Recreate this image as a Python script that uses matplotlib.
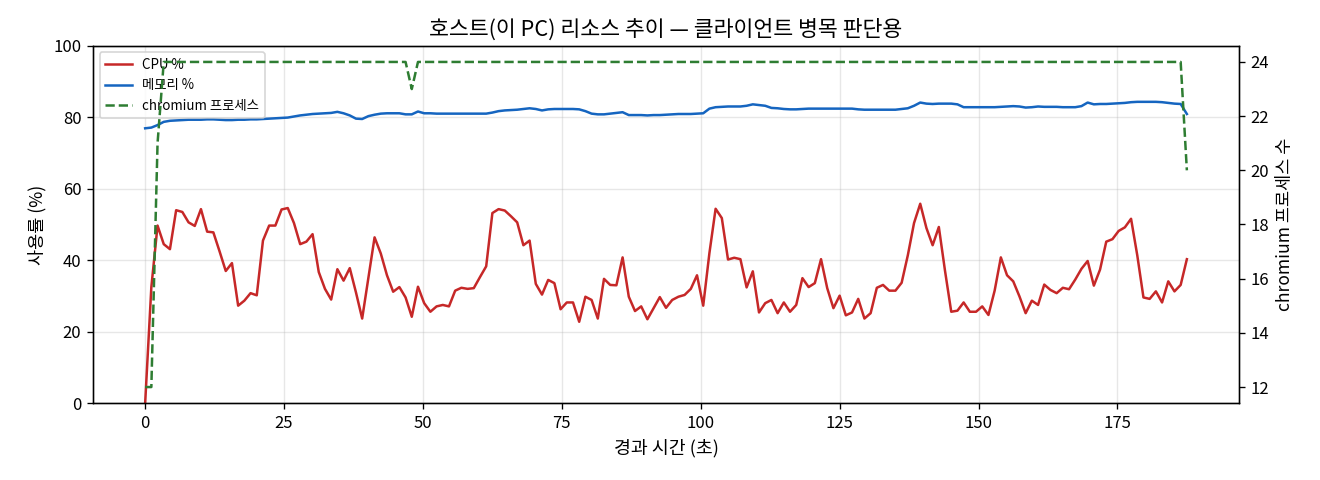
import numpy as np
import matplotlib
matplotlib.use("Agg")
import matplotlib.pyplot as plt

plt.rcParams['font.family'] = ['Noto Sans CJK KR', 'DejaVu Sans']
plt.rcParams['axes.unicode_minus'] = False

# 샘플 간격 (초) - 약 1.1초마다 측정
SAMPLE_SEC = 1.116

# CPU 사용률 (%)
cpu = [
    0.0, 32.5, 49.7, 44.5, 43.1, 54.0, 53.5, 50.6, 49.6, 54.3,   # 0-9
    48.0, 47.8, 42.5, 37.0, 39.2, 27.3, 28.7, 30.8, 30.2, 45.5,  # 10-19
    49.7, 49.7, 54.2, 54.6, 50.4, 44.5, 45.2, 47.3, 36.7, 32.0,  # 20-29
    29.0, 37.5, 34.3, 37.8, 31.0, 23.7, 35.0, 46.4, 41.9, 35.8,  # 30-39
    31.2, 32.5, 29.6, 24.2, 32.6, 28.0, 25.6, 27.1, 27.5, 27.1,  # 40-49
    31.5, 32.3, 32.0, 32.2, 35.3, 38.3, 53.2, 54.3, 53.9, 52.3,  # 50-59
    50.6, 44.2, 45.5, 33.4, 30.4, 34.5, 33.6, 26.3, 28.2, 28.2,  # 60-69
    22.8, 29.8, 28.9, 23.7, 34.8, 33.1, 33.0, 40.8, 29.8, 25.8,  # 70-79
    27.1, 23.5, 26.6, 29.7, 26.7, 28.9, 29.8, 30.3, 32.0, 35.8,  # 80-89
    27.3, 42.0, 54.4, 51.8, 40.2, 40.7, 40.3, 32.4, 36.9, 25.4,  # 90-99
    28.0, 28.9, 25.2, 28.2, 25.6, 27.5, 35.0, 32.5, 33.6, 40.3,  # 100-109
    32.2, 26.6, 30.1, 24.6, 25.4, 29.2, 23.7, 25.2, 32.3, 33.1,  # 110-119
    31.5, 31.5, 33.7, 41.4, 50.4, 55.8, 49.0, 44.2, 49.3, 37.0,  # 120-129
    25.6, 25.9, 28.2, 25.6, 25.6, 27.1, 24.7, 31.5, 40.8, 35.8,  # 130-139
    34.1, 29.9, 25.2, 28.7, 27.5, 33.2, 31.7, 30.8, 32.3, 31.9,  # 140-149
    34.6, 37.6, 39.8, 32.9, 37.4, 45.2, 45.9, 48.2, 49.2, 51.6,  # 150-159
    41.4, 29.6, 29.2, 31.3, 28.2, 34.1, 31.3, 33.1, 40.3,        # 160-168
]

# 메모리 사용률 (%)
mem = [
    76.9, 77.1, 77.8, 78.7, 79.0, 79.1, 79.2, 79.3, 79.3, 79.3,
    79.4, 79.4, 79.3, 79.2, 79.2, 79.3, 79.3, 79.4, 79.4, 79.5,
    79.6, 79.7, 79.8, 79.9, 80.2, 80.5, 80.7, 80.9, 81.0, 81.1,
    81.2, 81.5, 81.1, 80.5, 79.6, 79.5, 80.3, 80.7, 81.0, 81.1,
    81.1, 81.1, 80.8, 80.8, 81.6, 81.1, 81.1, 81.0, 81.0, 81.0,
    81.0, 81.0, 81.0, 81.0, 81.0, 81.0, 81.3, 81.7, 81.9, 82.0,
    82.1, 82.3, 82.5, 82.3, 81.9, 82.2, 82.3, 82.3, 82.3, 82.3,
    82.2, 81.7, 81.0, 80.8, 80.8, 81.0, 81.2, 81.4, 80.6, 80.6,
    80.6, 80.5, 80.6, 80.6, 80.7, 80.8, 80.9, 80.9, 80.9, 81.0,
    81.1, 82.4, 82.8, 82.9, 83.0, 83.0, 83.0, 83.2, 83.6, 83.4,
    83.2, 82.6, 82.5, 82.3, 82.2, 82.2, 82.3, 82.4, 82.4, 82.4,
    82.4, 82.4, 82.4, 82.4, 82.4, 82.2, 82.1, 82.1, 82.1, 82.1,
    82.1, 82.1, 82.3, 82.5, 83.2, 84.1, 83.8, 83.7, 83.8, 83.8,
    83.8, 83.6, 82.8, 82.8, 82.8, 82.8, 82.8, 82.8, 82.9, 83.0,
    83.1, 83.0, 82.7, 82.8, 83.0, 82.9, 82.9, 82.9, 82.8, 82.8,
    82.8, 83.1, 84.1, 83.6, 83.7, 83.7, 83.8, 83.9, 84.0, 84.2,
    84.3, 84.3, 84.3, 84.3, 84.2, 84.0, 83.8, 83.7, 80.9,
]

# chromium 프로세스 수
chromium = [
    12, 12, 21, 24, 24, 24, 24, 24, 24, 24,
    24, 24, 24, 24, 24, 24, 24, 24, 24, 24,
    24, 24, 24, 24, 24, 24, 24, 24, 24, 24,
    24, 24, 24, 24, 24, 24, 24, 24, 24, 24,
    24, 24, 24, 23, 24, 24, 24, 24, 24, 24,
    24, 24, 24, 24, 24, 24, 24, 24, 24, 24,
    24, 24, 24, 24, 24, 24, 24, 24, 24, 24,
    24, 24, 24, 24, 24, 24, 24, 24, 24, 24,
    24, 24, 24, 24, 24, 24, 24, 24, 24, 24,
    24, 24, 24, 24, 24, 24, 24, 24, 24, 24,
    24, 24, 24, 24, 24, 24, 24, 24, 24, 24,
    24, 24, 24, 24, 24, 24, 24, 24, 24, 24,
    24, 24, 24, 24, 24, 24, 24, 24, 24, 24,
    24, 24, 24, 24, 24, 24, 24, 24, 24, 24,
    24, 24, 24, 24, 24, 24, 24, 24, 24, 24,
    24, 24, 24, 24, 24, 24, 24, 24, 24, 24,
    24, 24, 24, 24, 24, 24, 24, 24, 20,
]

elapsed = np.arange(len(cpu)) * SAMPLE_SEC

fig, ax1 = plt.subplots(figsize=(11, 4), dpi=120)
fig.subplots_adjust(left=0.0705, right=0.9386, top=0.9048, bottom=0.1598)

l1, = ax1.plot(elapsed, cpu, color="#c62828", linewidth=1.5, label="CPU %")
l2, = ax1.plot(elapsed, mem, color="#1565c0", linewidth=1.5, label="메모리 %")
ax1.set_ylim(0, 100)
ax1.set_xlabel("경과 시간 (초)", fontsize=11)
ax1.set_ylabel("사용률 (%)", fontsize=10.5)
ax1.grid(alpha=0.3)

ax2 = ax1.twinx()
l3, = ax2.plot(elapsed, chromium, color="#2e7d32", linewidth=1.5,
               linestyle="--", label="chromium 프로세스")
ax2.set_ylabel("chromium 프로세스 수", fontsize=10.5)

ax1.set_title("호스트(이 PC) 리소스 추이 — 클라이언트 병목 판단용", fontsize=13)
ax1.legend(handles=[l1, l2, l3], loc="upper left", fontsize=8)

fig.savefig("out.png")
